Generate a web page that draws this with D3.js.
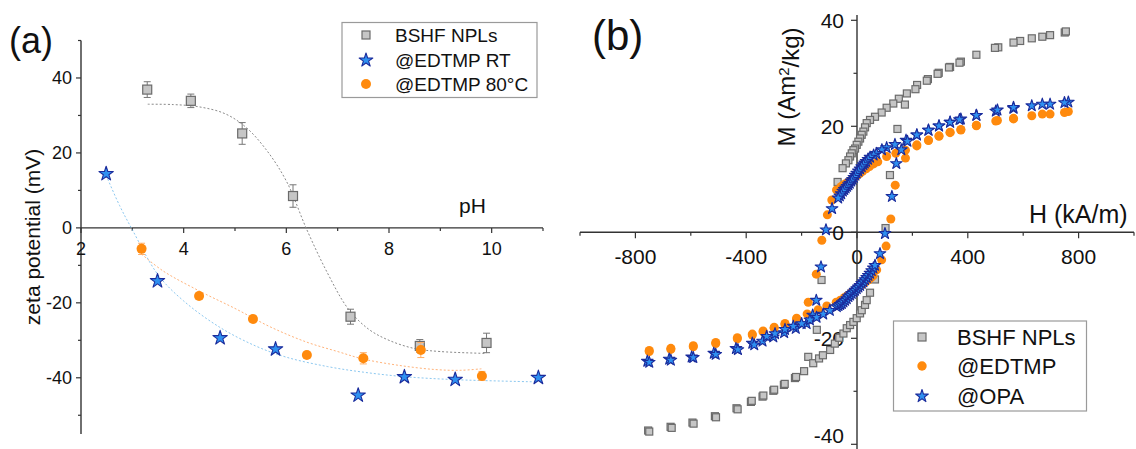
<!DOCTYPE html>
<html><head><meta charset="utf-8">
<script src="https://cdn.jsdelivr.net/npm/d3@7"></script>
<style>
html,body{margin:0;padding:0;background:#fff;}
svg{display:block;font-family:"Liberation Sans",Arial,sans-serif;}
</style></head><body>
<svg id="c" width="1136" height="449"></svg>
<script>
// ---------- Panel (a) data ----------
const phTicks = [2,4,6,8,10];
const zetaTicks = [40,20,0,-20,-40];
const bshfPH   = [3.29,4.14,5.14,6.13,7.25,8.60,9.90];
const bshfZeta = [36.9,33.9,25.2,8.5,-23.7,-31.5,-30.7];
const bshfErr  = [2.1,1.8,2.9,3.0,2.0,1.7,2.6];
const rtPH   = [2.49,3.49,4.71,5.79,7.40,8.30,9.29,10.91];
const rtZeta = [14.5,-14.1,-29.3,-32.3,-44.6,-39.7,-40.4,-39.9];
const hotPH   = [3.18,4.30,5.35,6.40,7.50,8.62,9.81];
const hotZeta = [-5.6,-18.2,-24.3,-33.9,-34.8,-32.6,-39.5];
const hotErr  = [1.5,0.8,0.8,0.8,1.5,2.0,1.2];
// fitted curves
const bshfFitPH   = [3.3,3.8,4.3,4.8,5.2,5.6,6.0,6.4,6.8,7.2,7.6,8.0,8.5,9.0,9.9];
const bshfFitZeta = [33,32.9,32.3,30.5,27,21,12.5,-0.5,-12,-21.5,-27,-30,-32.2,-33,-33.5];
const rtFitPH   = [2.49,2.75,3.0,3.5,4.0,4.7,5.4,6.0,6.8,7.5,8.3,9.3,10.9];
const rtFitZeta = [14,6,-0.5,-12.5,-19.5,-26.5,-31.5,-34.5,-37,-38.5,-39.7,-40.5,-41.1];
const hotFitPH   = [3.18,3.6,4.3,5.0,5.7,6.4,7.0,7.5,8.2,8.9,9.4,9.8];
const hotFitZeta = [-7,-11.5,-16.8,-21.5,-26.5,-30.5,-33,-35,-36.7,-37.8,-38,-37.6];
const legendA = ["BSHF NPLs","@EDTMP RT","@EDTMP 80°C"];

// ---------- Panel (b) data ----------
const hTicks = [-800,-400,0,400,800];
const mTicks = [40,20,0,-20,-40];
const bshfDescH = [750,697,631,589,510,431,375,336,295,256,217,180,151,131,107,89,65,47,35,29,23,17,11,5,-1,-7,-13,-19,-25,-31,-40,-52,-70,-128,-145,-176,-224,-264,-302,-341,-383,-435,-513,-594,-673,-754];
const bshfDescM = [37.7,37.2,36.6,36.1,34.9,33.5,32.2,31.2,30.1,28.9,27.8,26.2,25.2,24.3,23.5,22.6,21.8,21.2,20.6,19.8,19.0,18.4,17.7,17.1,16.5,15.8,15.5,14.9,14.3,13.6,13.0,12.1,9.5,-9.0,-18.4,-23.5,-27.5,-28.8,-29.9,-31.0,-32.0,-33.2,-34.7,-35.9,-36.7,-37.4];
const bshfAscH = [-750,-669,-590,-509,-431,-380,-338,-299,-261,-220,-191,-158,-137,-123,-97,-80,-64,-49,-37,-25,-13,-1,11,17,29,35,47,65,103,119,146,173,211,252,291,332,370,498,565,669,754];
const bshfAscM = [-37.6,-36.9,-36.1,-34.9,-33.4,-31.8,-30.8,-29.7,-28.6,-27.3,-26.2,-24.7,-23.8,-23.2,-22.2,-21.0,-19.9,-19.1,-18.1,-17.5,-16.9,-16.2,-15.3,-14.7,-13.7,-12.8,-11.4,-8.9,0.8,10.8,19.5,24.1,27.0,28.6,29.9,31.1,32.0,34.8,35.8,36.9,37.9];
const edtDescH = [763,697,631,565,507,431,375,336,296,258,216,175,140,107,75,60,45,33,20,10,0,-10,-20,-30,-40,-50,-58,-74,-91,-107,-127,-147,-176,-218,-260,-299,-339,-378,-432,-510,-591,-672,-750];
const edtDescM = [22.8,22.3,22.0,21.5,21.1,20.2,19.4,18.9,18.2,17.4,16.5,15.5,14.9,14.3,13.3,12.9,12.4,12.0,11.5,11.1,10.7,10.3,9.9,9.5,9.2,8.9,8.6,8.0,6.1,3.3,-1.5,-7.9,-13.2,-16.2,-17.2,-17.9,-18.6,-19.2,-19.9,-20.8,-21.4,-21.9,-22.3];
const edtAscH = [-750,-672,-591,-510,-432,-378,-339,-299,-260,-218,-180,-140,-109,-75,-60,-45,-33,-20,-10,0,10,20,30,40,50,58,71,89,105,122,138,175,216,258,296,336,375,431,501,565,669,749];
const edtAscM = [-22.5,-22.1,-21.6,-21.0,-20.1,-19.4,-18.8,-18.1,-17.4,-16.4,-15.4,-14.6,-13.9,-13.2,-12.8,-12.3,-11.9,-11.4,-11.0,-10.6,-10.2,-9.8,-9.4,-9.0,-8.6,-8.2,-7.1,-5.2,-2.6,2.5,8.9,14.0,16.3,17.3,18.1,18.8,19.3,20.1,21.0,21.4,22.3,22.6];
const opaDescH = [763,697,631,565,501,431,375,336,296,258,216,177,137,107,90,70,60,47,40,33,28,23,17,11,5,-1,-6,-11,-16,-21,-26,-31,-36,-41,-46,-51,-57,-62,-68,-90,-112,-130,-147,-160,-182,-221,-263,-302,-341,-378,-437,-517,-597,-678,-757];
const opaDescM = [24.6,24.2,23.9,23.4,22.9,22.1,21.4,20.8,20.1,19.3,18.4,17.4,16.6,16.0,15.6,14.9,14.6,14.2,13.8,13.4,13.1,12.8,12.4,12.0,11.6,11.2,10.8,10.4,10.0,9.7,9.3,9.0,8.7,8.4,8.1,7.8,7.3,6.9,6.5,4.5,0.5,-6.5,-12.8,-15.6,-17.2,-18.1,-18.9,-19.7,-20.5,-20.9,-21.9,-22.8,-23.5,-23.9,-24.3];
const opaAscH = [-750,-672,-591,-510,-430,-371,-326,-296,-260,-230,-200,-170,-146,-122,-98,-73,-67,-61,-55,-49,-43,-37,-31,-25,-19,-13,-7,-1,5,11,17,23,29,35,41,47,53,59,65,83,101,126,142,160,182,216,258,296,336,370,431,507,565,669,749];
const opaAscM = [-24.5,-24.1,-23.6,-23.0,-22.1,-21.2,-19.6,-19.1,-18.3,-17.7,-17.2,-16.5,-16.0,-15.4,-14.7,-14.0,-13.8,-13.6,-13.4,-13.1,-12.8,-12.5,-12.1,-11.8,-11.5,-11.2,-10.9,-10.6,-10.3,-10.0,-9.6,-9.3,-8.9,-8.5,-8.1,-7.7,-7.2,-6.7,-6.2,-4.0,-0.2,6.8,13.0,15.6,17.2,18.4,19.3,20.1,20.8,21.3,22.1,23.1,23.6,24.2,24.5];
const legendB = ["BSHF NPLs","@EDTMP","@OPA"];

// ---------- styles ----------
const AX = "#333";
const grayFill = "#c6c6c6", grayStroke = "#6b6b6b";
const blueFill = "#2f90f0", blueStroke = "#1b2c9c";
const orange = "#ff8a0d";

const svg = d3.select("#c");

function zip(a,b){ return a.map((v,i)=>[v,b[i]]); }

function drawSquare(g, x, y, s){
  g.append("rect").attr("x",x-s/2).attr("y",y-s/2).attr("width",s).attr("height",s)
   .attr("fill",grayFill).attr("stroke",grayStroke).attr("stroke-width",1.2);
}
function drawCircle(g,x,y,r){
  g.append("circle").attr("cx",x).attr("cy",y).attr("r",r).attr("fill",orange);
}
function drawStar(g,x,y,size){
  g.append("path").attr("d",d3.symbol(d3.symbolStar,size)())
   .attr("transform",`translate(${x},${y+size*0.004})`)
   .attr("fill",blueFill).attr("stroke",blueStroke).attr("stroke-width",1.1).attr("stroke-linejoin","round");
}

// ================= Panel (a) =================
{
  const x = d3.scaleLinear().domain([2,11]).range([81,543]);
  const y = d3.scaleLinear().domain([-55,50]).range([434,40.5]);
  const g = svg.append("g");

  // y axis
  g.append("line").attr("x1",x(2)).attr("x2",x(2)).attr("y1",y(50)).attr("y2",y(-55))
   .attr("stroke",AX).attr("stroke-width",1.4);
  [50,30,10,-10,-30,-50].forEach(v=>{
    g.append("line").attr("x1",x(2)).attr("x2",x(2)-3).attr("y1",y(v)).attr("y2",y(v)).attr("stroke",AX).attr("stroke-width",1.2);
  });
  zetaTicks.forEach(v=>{
    g.append("line").attr("x1",x(2)).attr("x2",x(2)-5).attr("y1",y(v)).attr("y2",y(v)).attr("stroke",AX).attr("stroke-width",1.2);
    g.append("text").attr("x",x(2)-9).attr("y",y(v)).attr("dy","0.35em").attr("text-anchor","end")
     .attr("font-size",18).attr("fill","#111").text(v);
  });
  // x axis at 0
  g.append("line").attr("x1",x(2)).attr("x2",x(11)).attr("y1",y(0)).attr("y2",y(0))
   .attr("stroke",AX).attr("stroke-width",1.4);
  [3,5,7,9,11].forEach(v=>{
    g.append("line").attr("x1",x(v)).attr("x2",x(v)).attr("y1",y(0)).attr("y2",y(0)+3).attr("stroke",AX).attr("stroke-width",1.2);
  });
  phTicks.forEach(v=>{
    g.append("line").attr("x1",x(v)).attr("x2",x(v)).attr("y1",y(0)).attr("y2",y(0)+5).attr("stroke",AX).attr("stroke-width",1.2);
    g.append("text").attr("x",x(v)).attr("y",y(0)+21).attr("dy","0.35em").attr("text-anchor","middle")
     .attr("font-size",18).attr("fill","#111").text(v);
  });
  g.append("text").attr("x",459).attr("y",213).attr("font-size",21).attr("fill","#111").text("pH");
  g.append("text").attr("transform","translate(33,237) rotate(-90)").attr("text-anchor","middle")
   .attr("dy","0.35em").attr("font-size",21).attr("fill","#111").text("zeta potential (mV)");
  g.append("text").attr("x",9).attr("y",53).attr("font-size",36).attr("fill","#111").text("(a)");

  // fit lines
  const line = d3.line().x(d=>x(d[0])).y(d=>y(d[1])).curve(d3.curveCatmullRom);
  g.append("path").attr("d",line(zip(bshfFitPH,bshfFitZeta))).attr("fill","none")
   .attr("stroke","#8a8a8a").attr("stroke-width",1).attr("stroke-dasharray","2,2");
  g.append("path").attr("d",line(zip(hotFitPH,hotFitZeta))).attr("fill","none")
   .attr("stroke","#ffb37a").attr("stroke-width",1).attr("stroke-dasharray","2,2");
  g.append("path").attr("d",line(zip(rtFitPH,rtFitZeta))).attr("fill","none")
   .attr("stroke","#8cc8f0").attr("stroke-width",1).attr("stroke-dasharray","2,2");

  // error bars
  function err(px,py,e,col){
    g.append("line").attr("x1",x(px)).attr("x2",x(px)).attr("y1",y(py+e)).attr("y2",y(py-e)).attr("stroke",col).attr("stroke-width",1);
    [py+e,py-e].forEach(v=>g.append("line").attr("x1",x(px)-3.5).attr("x2",x(px)+3.5).attr("y1",y(v)).attr("y2",y(v)).attr("stroke",col).attr("stroke-width",1));
  }
  bshfPH.forEach((p,i)=>err(p,bshfZeta[i],bshfErr[i],"#777"));
  bshfPH.forEach((p,i)=>drawSquare(g,x(p),y(bshfZeta[i]),9));
  hotPH.forEach((p,i)=>err(p,hotZeta[i],hotErr[i],"#ffae66"));
  hotPH.forEach((p,i)=>drawCircle(g,x(p),y(hotZeta[i]),5));
  rtPH.forEach((p,i)=>drawStar(g,x(p),y(rtZeta[i]),64));

  // legend
  g.append("rect").attr("x",342).attr("y",22.5).attr("width",195).attr("height",75)
   .attr("fill","#fff").attr("stroke","#9a9a9a").attr("stroke-width",1.2);
  const ly = [35,60,84];
  drawSquare(g,366,ly[0],8);
  drawStar(g,366,ly[1],58);
  drawCircle(g,366,ly[2],5);
  legendA.forEach((t,i)=>g.append("text").attr("x",395).attr("y",ly[i]).attr("dy","0.36em")
    .attr("font-size",19).attr("fill","#111").text(t));
}

// ================= Panel (b) =================
{
  const x = d3.scaleLinear().domain([-1000,1000]).range([580,1134]);
  const y = d3.scaleLinear().domain([-41,41]).range([449.6,15]);
  const g = svg.append("g");

  // x axis at M=0
  g.append("line").attr("x1",x(-1000)).attr("x2",x(1000)).attr("y1",y(0)).attr("y2",y(0))
   .attr("stroke",AX).attr("stroke-width",1.4);
  d3.range(-1000,1001,200).forEach(v=>{
    const major = hTicks.includes(v);
    g.append("line").attr("x1",x(v)).attr("x2",x(v)).attr("y1",y(0)).attr("y2",y(0)+(major?6:3.5))
     .attr("stroke",AX).attr("stroke-width",1.2);
  });
  hTicks.forEach(v=>{
    g.append("text").attr("x",x(v)).attr("y",y(0)+24).attr("dy","0.35em").attr("text-anchor","middle")
     .attr("font-size",21).attr("fill","#111").text(v);
  });
  // y axis
  g.append("line").attr("x1",x(0)).attr("x2",x(0)).attr("y1",y(41)).attr("y2",y(-41))
   .attr("stroke",AX).attr("stroke-width",1.4);
  [30,10,-10,-30].forEach(v=>{
    g.append("line").attr("x1",x(0)).attr("x2",x(0)-3.5).attr("y1",y(v)).attr("y2",y(v)).attr("stroke",AX).attr("stroke-width",1.2);
  });
  mTicks.forEach(v=>{
    g.append("line").attr("x1",x(0)).attr("x2",x(0)-6).attr("y1",y(v)).attr("y2",y(v)).attr("stroke",AX).attr("stroke-width",1.2);
    g.append("text").attr("x",x(0)-13).attr("y",y(v)).attr("dy",v===-40?"-0.05em":"0.35em").attr("text-anchor","end")
     .attr("font-size",21).attr("fill","#111").text(v);
  });
  g.append("text").attr("x",1029).attr("y",223).attr("font-size",25).attr("fill","#111").text("H (kA/m)");
  const yl = g.append("text").attr("transform","translate(787,87) rotate(-90)").attr("text-anchor","middle")
   .attr("dy","0.35em").attr("font-size",24).attr("fill","#111");
  yl.append("tspan").text("M (Am");
  yl.append("tspan").attr("dy","-0.45em").attr("font-size",15).text("2");
  yl.append("tspan").attr("dy","0.45em").text("/kg)");
  g.append("text").attr("x",592).attr("y",50).attr("font-size",42).attr("fill","#111").text("(b)");

  // data
  bshfDescH.forEach((h,i)=>drawSquare(g,x(h),y(bshfDescM[i]),7));
  bshfAscH.forEach((h,i)=>drawSquare(g,x(h),y(bshfAscM[i]),7));
  edtDescH.forEach((h,i)=>drawCircle(g,x(h),y(edtDescM[i]),4.5));
  edtAscH.forEach((h,i)=>drawCircle(g,x(h),y(edtAscM[i]),4.5));
  opaDescH.forEach((h,i)=>drawStar(g,x(h),y(opaDescM[i]),42));
  opaAscH.forEach((h,i)=>drawStar(g,x(h),y(opaAscM[i]),42));

  // legend
  g.append("rect").attr("x",893.5).attr("y",321).attr("width",193).attr("height",90)
   .attr("fill","#fff").attr("stroke","#9a9a9a").attr("stroke-width",1.2);
  const ly = [337,366,396];
  drawSquare(g,922,ly[0],8);
  drawCircle(g,922,ly[1],4.7);
  drawStar(g,922,ly[2],50);
  legendB.forEach((t,i)=>g.append("text").attr("x",957).attr("y",ly[i]).attr("dy","0.36em")
    .attr("font-size",22).attr("fill","#111").text(t));
}
</script>
</body></html>
